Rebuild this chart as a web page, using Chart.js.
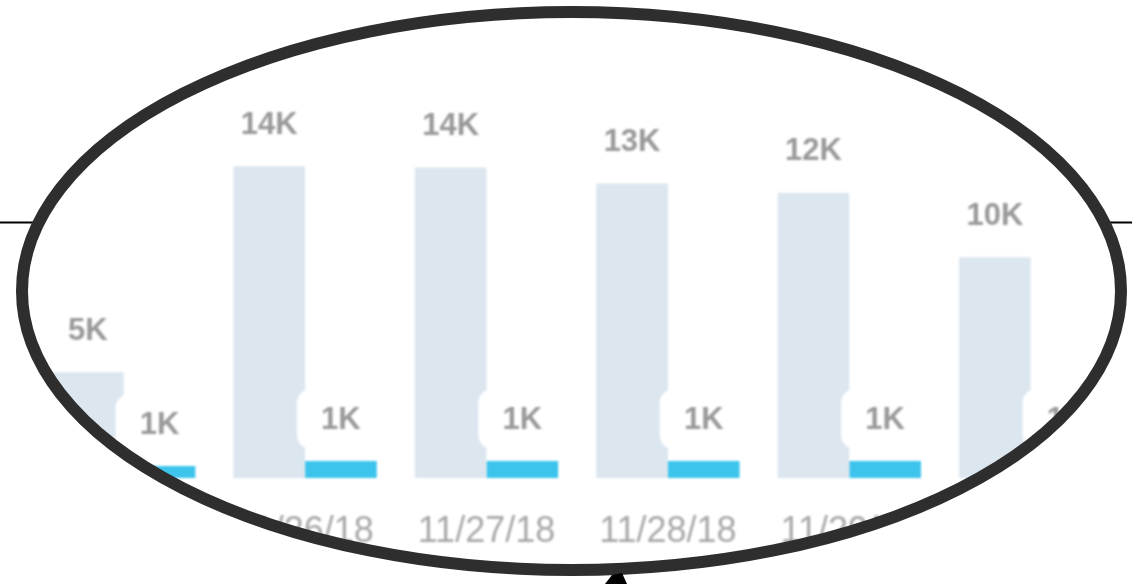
<!DOCTYPE html>
<html>
<head>
<meta charset="utf-8">
<script src="https://cdn.jsdelivr.net/npm/chart.js@4.4.1/dist/chart.umd.min.js"></script>
<style>
    html,body{margin:0;padding:0;background:#fff;}
    #wrap{position:relative;width:1132px;height:584px;overflow:hidden;}
    #dailyChart{position:absolute;left:0;top:0;filter:blur(1.2px);}
    #frame{position:absolute;left:0;top:0;pointer-events:none;}
</style>
</head>
<body>
<div id="wrap">
    <canvas id="dailyChart" width="1132" height="584"></canvas>
    <canvas id="frame" width="1132" height="584"></canvas>
</div>
<script>
/* ============================================================
   DADES
============================================================ */

const dates=["11/25/18","11/26/18","11/27/18","11/28/18","11/29/18","11/30/18"];

const totals=[4600,13550,13500,12800,12400,9600];

const converted=[520,740,740,740,740,740];

const yMax=16000;



document.addEventListener("DOMContentLoaded",()=>{

    crearGrafic();

    dibuixarMarc();

});



function formatK(v){

    return Math.round(v/1000)+"K";

}



/* ============================================================
   ETIQUETES DE VALOR
============================================================ */

const valueLabels={

    id:"valueLabels",

    afterDatasetsDraw(chart){

        const ctx=chart.ctx;

        ctx.save();

        chart.data.datasets.forEach((ds,i)=>{

            chart.getDatasetMeta(i).data.forEach((bar,j)=>{

                const cx=bar.x;
                const cy=bar.y-42;

                ctx.fillStyle="#ffffff";
                ctx.beginPath();
                ctx.roundRect(cx-44,cy-30,88,60,14);
                ctx.fill();

                ctx.fillStyle="#999999";
                ctx.font="bold 31px 'Liberation Sans'";
                ctx.textAlign="center";
                ctx.textBaseline="middle";
                ctx.fillText(formatK(ds.data[j]),cx,cy+1);

            });

        });

        ctx.restore();

    }

};



/* ============================================================
   GRÀFIC
============================================================ */

function crearGrafic(){

    const el=document.getElementById("dailyChart");

    new Chart(el,{

        type:"bar",

        data:{

            labels:dates,

            datasets:[{

                data:totals,

                backgroundColor:"#dce6ef",

                categoryPercentage:0.79,

                barPercentage:1

            },{

                data:converted,

                backgroundColor:"#3cc4ec",

                categoryPercentage:0.79,

                barPercentage:1

            }]

        },

        options:{

            responsive:false,

            animation:false,

            layout:{

                padding:{top:110,left:33,right:7,bottom:0}

            },

            plugins:{

                legend:{display:false},

                tooltip:{enabled:false}

            },

            scales:{

                x:{

                    grid:{display:false,drawTicks:false,tickLength:0},

                    border:{display:false},

                    afterFit(scale){

                        // alçada fixa de l'eix: la base de les barres queda a y=478
                        scale.height=106;

                    },

                    ticks:{

                        color:"#a8a8a8",

                        padding:32,

                        maxRotation:0,

                        autoSkip:false,

                        font:{family:"'Liberation Sans'",size:36}

                    }

                },

                y:{

                    display:false,

                    min:0,

                    max:yMax

                }

            }

        },

        plugins:[valueLabels]

    });

}



/* ============================================================
   MARC EL·LÍPTIC
============================================================ */

function dibuixarMarc(){

    const ctx=document.getElementById("frame").getContext("2d");

    const cx=571.5, cy=291, rx=549.5, ry=279;

    // blanc fora de l'el·lipse
    ctx.fillStyle="#ffffff";
    ctx.beginPath();
    ctx.rect(0,0,1132,584);
    ctx.ellipse(cx,cy,rx,ry,0,0,Math.PI*2);
    ctx.fill("evenodd");

    // línies horitzontals
    ctx.strokeStyle="#000";
    ctx.lineWidth=2;
    ctx.beginPath();
    ctx.moveTo(0,222.5);
    ctx.lineTo(36,222.5);
    ctx.moveTo(1106,222.5);
    ctx.lineTo(1132,222.5);
    ctx.stroke();

    // el·lipse
    ctx.strokeStyle="#2e2e2e";
    ctx.lineWidth=12;
    ctx.beginPath();
    ctx.ellipse(cx,cy,rx,ry,0,0,Math.PI*2);
    ctx.stroke();

    // punta de fletxa
    ctx.fillStyle="#000";
    ctx.beginPath();
    ctx.moveTo(605,584);
    ctx.lineTo(612,575);
    ctx.lineTo(622,573);
    ctx.lineTo(627,584);
    ctx.closePath();
    ctx.fill();

}
</script>
</body>
</html>
